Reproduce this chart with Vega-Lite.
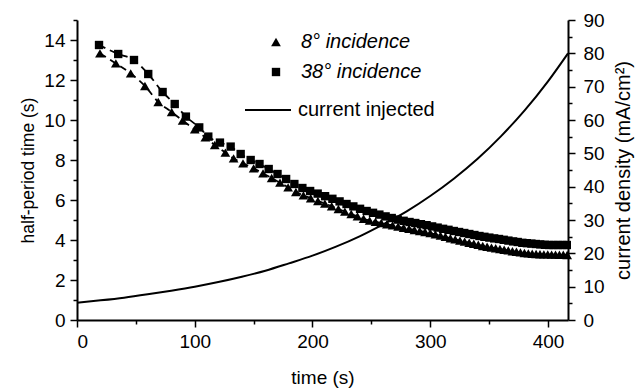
{
  "$schema": "https://vega.github.io/schema/vega-lite/v6.json",
  "width": 491,
  "height": 300,
  "autosize": "none",
  "padding": {"left": 77, "top": 20, "right": 75, "bottom": 71},
  "config": {"font": "Liberation Sans", "view": {"stroke": null}, "axis": {"grid": false, "domainColor": "black", "domainWidth": 2, "tickColor": "black", "tickWidth": 1.5, "labelColor": "black", "titleColor": "black", "labelFontSize": 19, "titleFontSize": 19, "titleFontWeight": "normal", "labelOverlap": false}},
  "datasets": {
    "pts": [
      {"t": 19.5, "hp": 13.33, "series": "8° incidence"},
      {"t": 33, "hp": 12.83, "series": "8° incidence"},
      {"t": 45.6, "hp": 12.33, "series": "8° incidence"},
      {"t": 57.7, "hp": 11.7, "series": "8° incidence"},
      {"t": 69, "hp": 10.9, "series": "8° incidence"},
      {"t": 80.4, "hp": 10.4, "series": "8° incidence"},
      {"t": 89.7, "hp": 9.97, "series": "8° incidence"},
      {"t": 100, "hp": 9.53, "series": "8° incidence"},
      {"t": 109, "hp": 9.13, "series": "8° incidence"},
      {"t": 117, "hp": 8.75, "series": "8° incidence"},
      {"t": 126, "hp": 8.37, "series": "8° incidence"},
      {"t": 133, "hp": 8.08, "series": "8° incidence"},
      {"t": 141, "hp": 7.83, "series": "8° incidence"},
      {"t": 150, "hp": 7.58, "series": "8° incidence"},
      {"t": 158, "hp": 7.33, "series": "8° incidence"},
      {"t": 165.3, "hp": 7.1, "series": "8° incidence"},
      {"t": 172.4, "hp": 6.87, "series": "8° incidence"},
      {"t": 179.3, "hp": 6.63, "series": "8° incidence"},
      {"t": 185.9, "hp": 6.4, "series": "8° incidence"},
      {"t": 192.3, "hp": 6.23, "series": "8° incidence"},
      {"t": 198.5, "hp": 6.09, "series": "8° incidence"},
      {"t": 204.6, "hp": 5.95, "series": "8° incidence"},
      {"t": 210.5, "hp": 5.82, "series": "8° incidence"},
      {"t": 216.3, "hp": 5.69, "series": "8° incidence"},
      {"t": 222, "hp": 5.55, "series": "8° incidence"},
      {"t": 227.5, "hp": 5.42, "series": "8° incidence"},
      {"t": 232.9, "hp": 5.3, "series": "8° incidence"},
      {"t": 238.2, "hp": 5.18, "series": "8° incidence"},
      {"t": 243.4, "hp": 5.06, "series": "8° incidence"},
      {"t": 248.5, "hp": 4.97, "series": "8° incidence"},
      {"t": 253.5, "hp": 4.91, "series": "8° incidence"},
      {"t": 258.4, "hp": 4.85, "series": "8° incidence"},
      {"t": 263.2, "hp": 4.79, "series": "8° incidence"},
      {"t": 268, "hp": 4.73, "series": "8° incidence"},
      {"t": 272.7, "hp": 4.67, "series": "8° incidence"},
      {"t": 277.4, "hp": 4.61, "series": "8° incidence"},
      {"t": 282, "hp": 4.56, "series": "8° incidence"},
      {"t": 286.6, "hp": 4.5, "series": "8° incidence"},
      {"t": 291.1, "hp": 4.45, "series": "8° incidence"},
      {"t": 295.6, "hp": 4.4, "series": "8° incidence"},
      {"t": 300, "hp": 4.35, "series": "8° incidence"},
      {"t": 304.4, "hp": 4.28, "series": "8° incidence"},
      {"t": 308.7, "hp": 4.22, "series": "8° incidence"},
      {"t": 312.9, "hp": 4.16, "series": "8° incidence"},
      {"t": 317.1, "hp": 4.09, "series": "8° incidence"},
      {"t": 321.2, "hp": 4.03, "series": "8° incidence"},
      {"t": 325.2, "hp": 3.97, "series": "8° incidence"},
      {"t": 329.2, "hp": 3.92, "series": "8° incidence"},
      {"t": 333.1, "hp": 3.86, "series": "8° incidence"},
      {"t": 337, "hp": 3.81, "series": "8° incidence"},
      {"t": 340.8, "hp": 3.76, "series": "8° incidence"},
      {"t": 344.6, "hp": 3.7, "series": "8° incidence"},
      {"t": 348.3, "hp": 3.66, "series": "8° incidence"},
      {"t": 352, "hp": 3.62, "series": "8° incidence"},
      {"t": 355.6, "hp": 3.59, "series": "8° incidence"},
      {"t": 359.2, "hp": 3.55, "series": "8° incidence"},
      {"t": 362.8, "hp": 3.51, "series": "8° incidence"},
      {"t": 366.3, "hp": 3.48, "series": "8° incidence"},
      {"t": 369.8, "hp": 3.44, "series": "8° incidence"},
      {"t": 373.2, "hp": 3.41, "series": "8° incidence"},
      {"t": 376.6, "hp": 3.38, "series": "8° incidence"},
      {"t": 380, "hp": 3.35, "series": "8° incidence"},
      {"t": 383.3, "hp": 3.33, "series": "8° incidence"},
      {"t": 386.6, "hp": 3.31, "series": "8° incidence"},
      {"t": 389.9, "hp": 3.3, "series": "8° incidence"},
      {"t": 393.2, "hp": 3.29, "series": "8° incidence"},
      {"t": 396.5, "hp": 3.28, "series": "8° incidence"},
      {"t": 399.8, "hp": 3.28, "series": "8° incidence"},
      {"t": 403.1, "hp": 3.27, "series": "8° incidence"},
      {"t": 406.4, "hp": 3.27, "series": "8° incidence"},
      {"t": 409.7, "hp": 3.26, "series": "8° incidence"},
      {"t": 413, "hp": 3.26, "series": "8° incidence"},
      {"t": 416.3, "hp": 3.25, "series": "8° incidence"},
      {"t": 18.7, "hp": 13.75, "series": "38° incidence"},
      {"t": 35, "hp": 13.3, "series": "38° incidence"},
      {"t": 48.4, "hp": 13.0, "series": "38° incidence"},
      {"t": 60.5, "hp": 12.3, "series": "38° incidence"},
      {"t": 72.7, "hp": 11.4, "series": "38° incidence"},
      {"t": 83, "hp": 10.8, "series": "38° incidence"},
      {"t": 92.5, "hp": 10.17, "series": "38° incidence"},
      {"t": 103.8, "hp": 9.63, "series": "38° incidence"},
      {"t": 111.5, "hp": 9.17, "series": "38° incidence"},
      {"t": 121.4, "hp": 8.87, "series": "38° incidence"},
      {"t": 130.5, "hp": 8.67, "series": "38° incidence"},
      {"t": 139, "hp": 8.3, "series": "38° incidence"},
      {"t": 147.5, "hp": 8.0, "series": "38° incidence"},
      {"t": 155, "hp": 7.8, "series": "38° incidence"},
      {"t": 162.8, "hp": 7.55, "series": "38° incidence"},
      {"t": 170.3, "hp": 7.3, "series": "38° incidence"},
      {"t": 177.6, "hp": 7.05, "series": "38° incidence"},
      {"t": 184.6, "hp": 6.8, "series": "38° incidence"},
      {"t": 191.4, "hp": 6.6, "series": "38° incidence"},
      {"t": 198, "hp": 6.45, "series": "38° incidence"},
      {"t": 204.4, "hp": 6.32, "series": "38° incidence"},
      {"t": 210.7, "hp": 6.19, "series": "38° incidence"},
      {"t": 216.9, "hp": 6.06, "series": "38° incidence"},
      {"t": 223, "hp": 5.93, "series": "38° incidence"},
      {"t": 228.9, "hp": 5.8, "series": "38° incidence"},
      {"t": 234.7, "hp": 5.68, "series": "38° incidence"},
      {"t": 240.4, "hp": 5.56, "series": "38° incidence"},
      {"t": 246, "hp": 5.45, "series": "38° incidence"},
      {"t": 251.4, "hp": 5.36, "series": "38° incidence"},
      {"t": 256.8, "hp": 5.27, "series": "38° incidence"},
      {"t": 262.1, "hp": 5.18, "series": "38° incidence"},
      {"t": 267.3, "hp": 5.1, "series": "38° incidence"},
      {"t": 272.4, "hp": 5.02, "series": "38° incidence"},
      {"t": 277.4, "hp": 4.96, "series": "38° incidence"},
      {"t": 282.4, "hp": 4.9, "series": "38° incidence"},
      {"t": 287.3, "hp": 4.85, "series": "38° incidence"},
      {"t": 292.1, "hp": 4.79, "series": "38° incidence"},
      {"t": 296.9, "hp": 4.74, "series": "38° incidence"},
      {"t": 301.6, "hp": 4.68, "series": "38° incidence"},
      {"t": 306.3, "hp": 4.62, "series": "38° incidence"},
      {"t": 310.9, "hp": 4.56, "series": "38° incidence"},
      {"t": 315.5, "hp": 4.51, "series": "38° incidence"},
      {"t": 320, "hp": 4.45, "series": "38° incidence"},
      {"t": 324.5, "hp": 4.4, "series": "38° incidence"},
      {"t": 328.9, "hp": 4.35, "series": "38° incidence"},
      {"t": 333.2, "hp": 4.3, "series": "38° incidence"},
      {"t": 337.5, "hp": 4.25, "series": "38° incidence"},
      {"t": 341.8, "hp": 4.2, "series": "38° incidence"},
      {"t": 346, "hp": 4.16, "series": "38° incidence"},
      {"t": 350.2, "hp": 4.12, "series": "38° incidence"},
      {"t": 354.3, "hp": 4.08, "series": "38° incidence"},
      {"t": 358.4, "hp": 4.05, "series": "38° incidence"},
      {"t": 362.4, "hp": 4.01, "series": "38° incidence"},
      {"t": 366.4, "hp": 3.97, "series": "38° incidence"},
      {"t": 370.4, "hp": 3.93, "series": "38° incidence"},
      {"t": 374.3, "hp": 3.9, "series": "38° incidence"},
      {"t": 378.2, "hp": 3.86, "series": "38° incidence"},
      {"t": 382.1, "hp": 3.84, "series": "38° incidence"},
      {"t": 385.9, "hp": 3.82, "series": "38° incidence"},
      {"t": 389.7, "hp": 3.8, "series": "38° incidence"},
      {"t": 393.5, "hp": 3.78, "series": "38° incidence"},
      {"t": 397.3, "hp": 3.76, "series": "38° incidence"},
      {"t": 401, "hp": 3.75, "series": "38° incidence"},
      {"t": 404.8, "hp": 3.75, "series": "38° incidence"},
      {"t": 408.5, "hp": 3.75, "series": "38° incidence"},
      {"t": 412.3, "hp": 3.75, "series": "38° incidence"},
      {"t": 416, "hp": 3.75, "series": "38° incidence"}
    ],
    "cur": [
      {"t": 0, "j": 5.2, "label": "current injected"},
      {"t": 20, "j": 5.9, "label": "current injected"},
      {"t": 40, "j": 6.7, "label": "current injected"},
      {"t": 60, "j": 7.7, "label": "current injected"},
      {"t": 80, "j": 8.8, "label": "current injected"},
      {"t": 100, "j": 10.0, "label": "current injected"},
      {"t": 120, "j": 11.4, "label": "current injected"},
      {"t": 140, "j": 13.0, "label": "current injected"},
      {"t": 160, "j": 14.8, "label": "current injected"},
      {"t": 180, "j": 17.0, "label": "current injected"},
      {"t": 200, "j": 19.3, "label": "current injected"},
      {"t": 220, "j": 22.0, "label": "current injected"},
      {"t": 240, "j": 25.1, "label": "current injected"},
      {"t": 260, "j": 28.7, "label": "current injected"},
      {"t": 280, "j": 32.6, "label": "current injected"},
      {"t": 300, "j": 37.2, "label": "current injected"},
      {"t": 320, "j": 42.4, "label": "current injected"},
      {"t": 340, "j": 48.3, "label": "current injected"},
      {"t": 360, "j": 55.1, "label": "current injected"},
      {"t": 380, "j": 62.8, "label": "current injected"},
      {"t": 400, "j": 71.6, "label": "current injected"},
      {"t": 417, "j": 80.0, "label": "current injected"}
    ]
  },
  "encoding": {
    "x": {"field": "t", "type": "quantitative", "scale": {"domain": [0, 417], "nice": false, "zero": false},
      "axis": {"title": "time (s)", "values": [0, 50, 100, 150, 200, 250, 300, 350, 400], "labelExpr": "datum.value % 100 === 0 ? datum.label : ''", "tickSize": {"condition": {"test": "datum.value % 100 === 0", "value": 7}, "value": 4}, "labelPadding": 5, "titlePadding": 17}}
  },
  "layer": [
    {
      "data": {"name": "pts"},
      "encoding": {
        "y": {"field": "hp", "type": "quantitative", "scale": {"domain": [0, 15], "nice": false},
          "axis": {"title": "half-period time (s)", "orient": "left", "titleFontSize": 17.5, "values": [0, 1, 2, 3, 4, 5, 6, 7, 8, 9, 10, 11, 12, 13, 14, 15], "labelExpr": "datum.value % 2 === 0 ? datum.label : ''", "tickSize": {"condition": {"test": "datum.value % 2 === 0", "value": 7}, "value": 4}, "labelPadding": 5, "titlePadding": 6}}
      },
      "layer": [
        {
          "mark": {"type": "line", "color": "black", "strokeWidth": 1.8, "strokeDash": [7, 5], "interpolate": "monotone"},
          "encoding": {"detail": {"field": "series"}}
        },
        {
          "mark": {"type": "point", "filled": true, "color": "black", "opacity": 1},
          "encoding": {
            "shape": {"field": "series", "type": "nominal", "scale": {"domain": ["8° incidence", "38° incidence"], "range": ["triangle-up", "square"]},
              "legend": {"orient": "none", "legendX": 189, "legendY": 12, "title": null, "padding": 0, "labelFontStyle": "italic", "labelFontSize": 20, "labelColor": "black", "symbolFillColor": "black", "symbolStrokeColor": "black", "symbolOpacity": 1, "rowPadding": 10, "labelOffset": 15}},
            "size": {"field": "series", "type": "nominal", "scale": {"domain": ["8° incidence", "38° incidence"], "range": [95, 70]},
              "legend": {"orient": "none", "legendX": 189, "legendY": 12, "title": null, "padding": 0, "labelFontStyle": "italic", "labelFontSize": 20, "labelColor": "black", "symbolFillColor": "black", "symbolStrokeColor": "black", "symbolOpacity": 1, "rowPadding": 10, "labelOffset": 15}}
          }
        }
      ]
    },
    {
      "data": {"name": "cur"},
      "mark": {"type": "line", "strokeWidth": 2, "interpolate": "monotone"},
      "encoding": {
        "y": {"field": "j", "type": "quantitative", "scale": {"domain": [0, 90], "nice": false},
          "axis": {"title": "current density (mA/cm²)", "orient": "right", "titleFontSize": 20, "titleAngle": 270, "titleBaseline": "top", "values": [0, 5, 10, 15, 20, 25, 30, 35, 40, 45, 50, 55, 60, 65, 70, 75, 80, 85, 90], "labelExpr": "datum.value % 10 === 0 ? datum.label : ''", "tickSize": {"condition": {"test": "datum.value % 10 === 0", "value": 7}, "value": 4}, "labelPadding": 8, "titlePadding": 9}},
        "color": {"field": "label", "type": "nominal", "scale": {"range": ["black"]},
          "legend": {"orient": "none", "legendX": 167, "legendY": 66, "title": null, "padding": 0, "labelFontSize": 20, "labelColor": "black", "symbolType": "stroke", "symbolSize": 2116, "symbolStrokeWidth": 2, "symbolStrokeColor": "black", "labelOffset": 6}}
      }
    }
  ],
  "resolve": {"scale": {"y": "independent", "color": "independent", "shape": "independent", "size": "independent"}}
}
